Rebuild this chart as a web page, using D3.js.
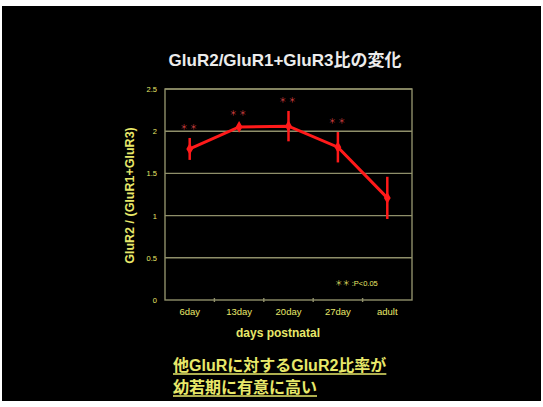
<!DOCTYPE html>
<html>
<head>
<meta charset="utf-8">
<script src="https://cdn.jsdelivr.net/npm/d3@7"></script>
<style>
  html, body { margin: 0; padding: 0; background: #fff; }
  svg { display: block; }
</style>
</head>
<body>
<svg id="chart" width="543" height="407"></svg>
<script>
// GluR2 / (GluR1+GluR3) ratio by developmental age
const categories = ["6day", "13day", "20day", "27day", "adult"];
const ratios = [1.79, 2.05, 2.06, 1.81, 1.21];
const errors = [0.13, 0.03, 0.18, 0.18, 0.25];
const significant = [true, true, true, true, false];
const yTicks = [0, 0.5, 1, 1.5, 2, 2.5];
const yTickLabels = ["0", "0.5", "1", "1.5", "2", "2.5"];

const svg = d3.select("#chart");
const W = 543, H = 407;
const font = "'Liberation Sans', Arial, 'Noto Sans CJK JP', sans-serif";
const cjk = "'Noto Sans CJK JP', sans-serif";
const yellow = "#e8e86a";
const grid = "#8f8f6a";
const red = "#ff1a1a";

// slide background (black panel with thin white margins)
svg.append("rect").attr("width", W).attr("height", H).attr("fill", "#fff");
svg.append("rect").attr("x", 2).attr("y", 6).attr("width", W - 4).attr("height", H - 12).attr("fill", "#000");

svg.append("text")
  .attr("x", 285).attr("y", 66)
  .attr("text-anchor", "middle")
  .attr("font-family", font).attr("font-weight", "bold")
  .attr("font-size", 17).attr("fill", "#ececec")
  .text("GluR2/GluR1+GluR3比の変化");

const plot = { left: 165, right: 412, top: 89, bottom: 300 };

const x = d3.scaleBand().domain(categories)
  .range([plot.left, plot.right]);
const y = d3.scaleLinear().domain([0, 2.5])
  .range([plot.bottom, plot.top]);

// horizontal gridlines
svg.append("g").selectAll("line").data(yTicks.slice(1)).join("line")
  .attr("x1", plot.left).attr("x2", plot.right)
  .attr("y1", d => y(d)).attr("y2", d => y(d))
  .attr("stroke", grid).attr("stroke-width", 1.4);

// plot frame
svg.append("rect")
  .attr("x", plot.left).attr("y", plot.top)
  .attr("width", plot.right - plot.left).attr("height", plot.bottom - plot.top)
  .attr("fill", "none").attr("stroke", grid).attr("stroke-width", 1.4);

// y axis
const yAxis = d3.axisLeft(y).tickValues(yTicks)
  .tickFormat((d, i) => yTickLabels[i]).tickSize(0).tickPadding(8);
const gy = svg.append("g").attr("transform", `translate(${plot.left},0)`).call(yAxis);
gy.select(".domain").remove();
gy.selectAll("text").attr("fill", yellow).attr("font-size", 7.5)
  .attr("font-family", font);

// x axis
const xAxis = d3.axisBottom(x).tickSize(0).tickPadding(8);
const gx = svg.append("g").attr("transform", `translate(0,${plot.bottom})`).call(xAxis);
gx.select(".domain").remove();
gx.selectAll("text").attr("fill", yellow).attr("font-size", 9.5)
  .attr("font-family", font);
// small tick marks between categories on the baseline
svg.append("g").selectAll("line").data(categories.slice(1)).join("line")
  .attr("x1", d => x(d)).attr("x2", d => x(d))
  .attr("y1", plot.bottom - 2).attr("y2", plot.bottom + 2)
  .attr("stroke", grid).attr("stroke-width", 1.4);

// axis titles
svg.append("text")
  .attr("transform", `translate(134,${(plot.top + plot.bottom) / 2 + 1}) rotate(-90)`)
  .attr("text-anchor", "middle")
  .attr("font-family", font).attr("font-weight", "bold")
  .attr("font-size", 12.5).attr("fill", yellow)
  .text("GluR2 / (GluR1+GluR3)");

svg.append("text")
  .attr("x", 278).attr("y", 337)
  .attr("text-anchor", "middle")
  .attr("font-family", font).attr("font-weight", "bold")
  .attr("font-size", 12).attr("fill", yellow)
  .text("days postnatal");

const cx = d => x(d) + x.bandwidth() / 2;
const data = categories.map((c, i) => ({ c, v: ratios[i], e: errors[i], s: significant[i] }));

// error bars
svg.append("g").selectAll("line").data(data).join("line")
  .attr("x1", d => cx(d.c)).attr("x2", d => cx(d.c))
  .attr("y1", d => y(d.v - d.e)).attr("y2", d => y(d.v + d.e))
  .attr("stroke", red).attr("stroke-width", 2.5);

// mean line
svg.append("path")
  .datum(data)
  .attr("d", d3.line().x(d => cx(d.c)).y(d => y(d.v)))
  .attr("fill", "none").attr("stroke", red).attr("stroke-width", 3);

svg.append("g").selectAll("path").data(data).join("path")
  .attr("transform", d => `translate(${cx(d.c)},${y(d.v)})`)
  .attr("d", d3.symbol(d3.symbolDiamond, 40)())
  .attr("fill", red);

// significance marks
svg.append("g").selectAll("text").data(data.filter(d => d.s)).join("text")
  .attr("x", d => cx(d.c)).attr("y", d => y(d.v + d.e) - 8)
  .attr("text-anchor", "middle")
  .attr("font-family", cjk).attr("font-size", 7.5)
  .attr("letter-spacing", 2)
  .attr("fill", "#e04848")
  .text("＊＊");

// legend
svg.append("text")
  .attr("x", 335).attr("y", 286)
  .attr("font-family", font).attr("font-size", 7.5)
  .attr("fill", yellow)
  .call(t => t.append("tspan").attr("font-family", cjk).text("＊＊ "))
  .call(t => t.append("tspan").text(":P<0.05"));

// conclusion text, underlined
const lines = ["他GluRに対するGluR2比率が", "幼若期に有意に高い"];
const tg = svg.append("g");
lines.forEach((t, i) => {
  const txt = tg.append("text")
    .attr("x", 173).attr("y", 371 + i * 22)
    .attr("font-family", font).attr("font-weight", "bold")
    .attr("font-size", 16).attr("fill", yellow)
    .text(t);
  const w = txt.node().getComputedTextLength();
  tg.append("line")
    .attr("x1", 173).attr("x2", 173 + w)
    .attr("y1", 374 + i * 22).attr("y2", 374 + i * 22)
    .attr("stroke", yellow).attr("stroke-width", 1.5);
});
</script>
</body>
</html>
